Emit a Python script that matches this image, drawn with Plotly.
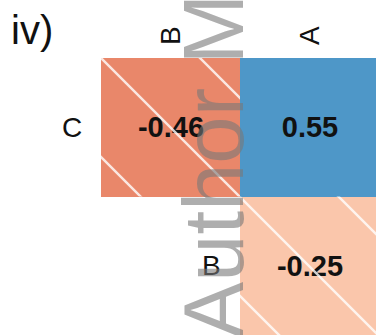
import plotly.graph_objects as go

# Data
col_labels = ["B", "A"]
row_labels = ["C", "B"]
values = [
    [-0.46, 0.55],   # row C
    [None, -0.25],   # row B
]
panel_label = "iv)"
watermark = "Author Manuscript"

W, H = 376, 335
ML, MT = 101, 58
PW, PH = W - ML, H - MT
cell_w = 139.0
x_range = [-0.5, -0.5 + PW / cell_w]


def px_x(px):
    return (px - ML) / PW


def px_y(py):
    return (H - py) / PH


colorscale = [
    [0.0, "#67001f"],
    [0.27, "#E9876A"],
    [0.375, "#FAC6AB"],
    [0.5, "#f7f7f7"],
    [0.775, "#4E97C8"],
    [1.0, "#053061"],
]

xs = list(range(len(col_labels)))
ys = list(range(len(row_labels)))
text = [["" if v is None else f"{v:.2f}" for v in row] for row in values]

fig = go.Figure()
fig.add_trace(go.Heatmap(
    x=xs, y=ys, z=values, zmin=-1, zmax=1,
    colorscale=colorscale, showscale=False,
    text=text, texttemplate="%{text}",
    textfont=dict(family="Liberation Sans, Arial", size=29, color="#111111", weight="bold"),
    xgap=0, ygap=0, hoverinfo="skip",
))

# hatching on negative cells
hx, hbase = [], []
for r, row in enumerate(values):
    for c, v in enumerate(row):
        if v is not None and v < 0:
            hx.append(c)
            hbase.append(r - 0.5)
fig.add_trace(go.Bar(
    x=hx, y=[1] * len(hx), base=hbase, width=1,
    marker=dict(color="rgba(0,0,0,0)", line=dict(width=0),
                pattern=dict(shape="\\", fgcolor="white", fgopacity=0.8,
                             bgcolor="rgba(0,0,0,0)", size=70, solidity=0.035)),
    hoverinfo="skip", showlegend=False,
))

annotations = []
# row labels next to first non-empty cell
for r, row in enumerate(values):
    first = next(c for c, v in enumerate(row) if v is not None)
    annotations.append(dict(
        x=first - 0.5, y=r, xref="x", yref="y", text=row_labels[r],
        showarrow=False, xanchor="right", yanchor="middle", xshift=-17,
        font=dict(family="Liberation Sans, Arial", size=28, color="#111111"),
    ))
# panel label
annotations.append(dict(
    x=px_x(9), y=px_y(6), xref="paper", yref="paper",
    text=panel_label, showarrow=False, xanchor="left", yanchor="top",
    font=dict(family="Liberation Sans, Arial", size=40, color="#111111"),
))
# watermark
annotations.append(dict(
    x=px_x(262), y=px_y(340), xref="paper", yref="paper",
    text=watermark, textangle=-90, showarrow=False,
    xanchor="right", yanchor="bottom",
    font=dict(family="Liberation Sans, Arial", size=85, color="rgba(120,120,120,0.6)"),
))

fig.update_layout(
    width=W, height=H,
    margin=dict(l=ML, r=0, t=MT, b=0, pad=0),
    paper_bgcolor="white", plot_bgcolor="white",
    xaxis=dict(range=x_range, tickvals=xs, ticktext=col_labels, side="top",
               tickangle=-90, showgrid=False, zeroline=False, showline=False,
               ticks="", ticklabelstandoff=12,
               tickfont=dict(family="Liberation Sans, Arial", size=28, color="#111111")),
    yaxis=dict(range=[1.5, -0.5], showticklabels=False, showgrid=False,
               zeroline=False, showline=False, ticks=""),
    annotations=annotations,
    showlegend=False,
    barmode="overlay",
)

fig.write_html(
    "out.html",
    config={"displayModeBar": False},
    post_script="document.body.style.margin='0';document.body.style.overflow='hidden';",
)
